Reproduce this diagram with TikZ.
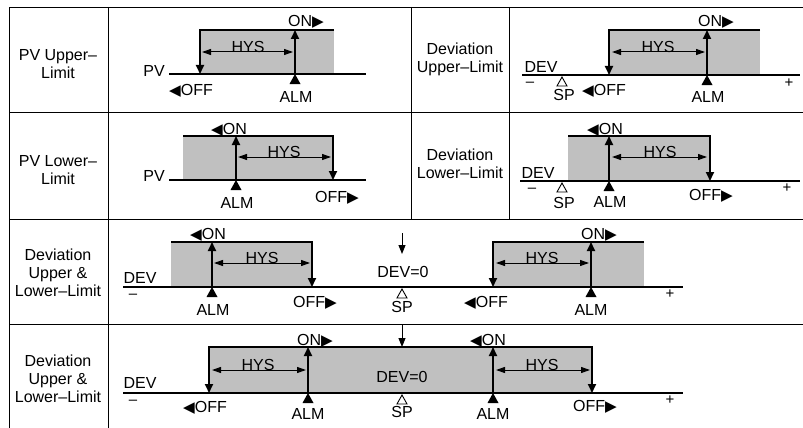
\documentclass[tikz,border=0pt]{standalone}
\usepackage{fontspec}
\setmainfont{Liberation Sans}
\newfontfamily\symfnt[Scale=0.95]{DejaVu Sans}
\usepackage{tikz}
\usetikzlibrary{arrows.meta, calc}
\definecolor{bandgray}{RGB}{192, 192, 192}

\begin{document}
\begin{tikzpicture}[x=1pt, y=-1pt,
    lbl/.style={inner sep=0pt, font=\fontsize{16}{18}\selectfont, text height=11.5pt, text depth=0pt},
    cell/.style={inner sep=0pt, font=\fontsize{16}{18}\selectfont, align=center},
    sgn/.style={inner sep=0pt, font=\fontsize{15}{15}\selectfont, text height=7pt, text depth=0pt},
    axis/.style={line width=2pt},
    swarrow/.style={line width=1.8pt, -{Triangle[length=9pt, width=8pt]}},
    hysarrow/.style={line width=1pt, {Triangle[length=9pt, width=6pt]}-{Triangle[length=9pt, width=6pt]}},
    zeroarrow/.style={line width=1pt, -{Triangle[length=9pt, width=7pt]}},
    grid/.style={line width=0.9pt},
    band/.style={fill=bandgray}]

    \useasboundingbox (0,0) rectangle (803,428);

    % Table
    \draw[grid] (9,428) -- (9,7) -- (803,7);
    \draw[grid] (9,112) -- (803,112);
    \draw[grid] (9,219) -- (803,219);
    \draw[grid] (9,324) -- (803,324);
    \draw[grid] (108,7) -- (108,428);
    \draw[grid] (411,7) -- (411,219);
    \draw[grid] (509,7) -- (509,219);

    % Row labels
    \node[cell] (lab1) at (58,64) {PV Upper–\\Limit};
    \node[cell] (lab2) at (460,59) {Deviation\\Upper–Limit};
    \node[cell] (lab3) at (58,170) {PV Lower–\\Limit};
    \node[cell] (lab4) at (460,164) {Deviation\\Lower–Limit};
    \node[cell] (lab5) at (58,273) {Deviation\\Upper \&\\Lower–Limit};
    \node[cell] (lab6) at (58,379) {Deviation\\Upper \&\\Lower–Limit};

    % PV upper-limit
    \fill[band] (200,30) rectangle (334,74);
    \draw[axis] (169,74) -- (366,74);
    \draw[swarrow] (334,30) -- (200,30) -- (200,74);
    \draw[swarrow] (295,74) -- (295,30);
    \draw[hysarrow] (202,52) -- (293,52);
    \node[lbl] (hys1) at (248,47) {HYS};
    \node[lbl] (on1) at (306,21) {ON{\symfnt ▶}};
    \node[lbl, anchor=east] (pv1) at (165,71) {PV};
    \node[lbl] (off1) at (191,90) {{\symfnt ◀}OFF};
    \node[lbl] (alm1) at (296,97) {ALM};

    % Deviation upper-limit
    \fill[band] (609,30) rectangle (760,75);
    \draw[axis] (522,75) -- (800,75);
    \draw[swarrow] (760,30) -- (609,30) -- (609,75);
    \draw[swarrow] (707,75) -- (707,30);
    \draw[hysarrow] (612,52) -- (705,52);
    \node[lbl] (hys2) at (658,47) {HYS};
    \node[lbl] (on2) at (716,21) {ON{\symfnt ▶}};
    \node[lbl] (dev2) at (541,67) {DEV};
    \node[sgn] (minus2) at (530,83) {–};
    \node[sgn] (plus2) at (789,84) {+};
    \node[lbl] (sp2) at (564,95) {SP};
    \node[lbl] (off2) at (604,90) {{\symfnt ◀}OFF};
    \node[lbl] (alm2) at (708,97) {ALM};

    % PV lower-limit
    \fill[band] (183,136) rectangle (333,180);
    \draw[axis] (169,180) -- (366,180);
    \draw[swarrow] (183,136) -- (333,136) -- (333,180);
    \draw[swarrow] (236,180) -- (236,136);
    \draw[hysarrow] (238,157) -- (331,157);
    \node[lbl] (hys3) at (284,152) {HYS};
    \node[lbl] (on3) at (229,129) {{\symfnt ◀}ON};
    \node[lbl, anchor=east] (pv3) at (165,176) {PV};
    \node[lbl] (alm3) at (237,203) {ALM};
    \node[lbl] (off3) at (337,197) {OFF{\symfnt ▶}};

    % Deviation lower-limit
    \fill[band] (568,136) rectangle (710,181);
    \draw[axis] (520,181) -- (800,181);
    \draw[swarrow] (568,136) -- (710,136) -- (710,181);
    \draw[swarrow] (609,181) -- (609,136);
    \draw[hysarrow] (612,157) -- (707,157);
    \node[lbl] (hys4) at (660,152) {HYS};
    \node[lbl] (on4) at (605,129) {{\symfnt ◀}ON};
    \node[lbl] (dev4) at (538,173) {DEV};
    \node[sgn] (minus4) at (532,189) {–};
    \node[sgn] (plus4) at (787,189) {+};
    \node[lbl] (sp4) at (564,203) {SP};
    \node[lbl] (alm4) at (610,202) {ALM};
    \node[lbl] (off4) at (711,195) {OFF{\symfnt ▶}};

    % Deviation upper & lower-limit (outside band)
    \fill[band] (171,242) rectangle (312,287);
    \fill[band] (493,242) rectangle (644,287);
    \draw[axis] (123,287) -- (683,287);
    \draw[swarrow] (171,242) -- (312,242) -- (312,287);
    \draw[swarrow] (644,242) -- (493,242) -- (493,287);
    \draw[swarrow] (212,287) -- (212,242);
    \draw[swarrow] (591,287) -- (591,242);
    \draw[hysarrow] (214,263) -- (310,263);
    \draw[hysarrow] (496,263) -- (589,263);
    \node[lbl] (hys5a) at (262,258) {HYS};
    \node[lbl] (hys5b) at (542,258) {HYS};
    \node[lbl] (on5a) at (208,234) {{\symfnt ◀}ON};
    \node[lbl] (on5b) at (599,234) {ON{\symfnt ▶}};
    \node[lbl] (dev5) at (140,278) {DEV};
    \node[sgn] (minus5) at (133,295) {–};
    \node[sgn] (plus5) at (670,295) {+};
    \node[lbl] (zero5) at (403,272) {DEV=0};
    \coordinate (top5) at (402,233);
    \coordinate (tip5) at (402,254);
    \draw[zeroarrow] (top5) -- (tip5);
    \node[lbl] (sp5) at (402,307) {SP};
    \node[lbl] (off5a) at (315,302) {OFF{\symfnt ▶}};
    \node[lbl] (off5b) at (486,302) {{\symfnt ◀}OFF};
    \node[lbl] (alm5a) at (213,310) {ALM};
    \node[lbl] (alm5b) at (591,310) {ALM};

    % Deviation upper & lower-limit (inside band)
    \fill[band] (209,347) rectangle (592,393);
    \draw[axis] (123,393) -- (683,393);
    \draw[swarrow] (400,347) -- (209,347) -- (209,393);
    \draw[swarrow] (400,347) -- (592,347) -- (592,393);
    \draw[swarrow] (308,393) -- (308,347);
    \draw[swarrow] (493,393) -- (493,347);
    \draw[hysarrow] (212,370) -- (306,370);
    \draw[hysarrow] (496,370) -- (590,370);
    \node[lbl] (hys6a) at (258,365) {HYS};
    \node[lbl] (hys6b) at (542,365) {HYS};
    \node[lbl] (on6a) at (315,340) {ON{\symfnt ▶}};
    \node[lbl] (on6b) at (488,340) {{\symfnt ◀}ON};
    \node[lbl] (dev6) at (140,383) {DEV};
    \node[sgn] (minus6) at (133,401) {–};
    \node[sgn] (plus6) at (670,401) {+};
    \node[lbl] (zero6) at (402,377) {DEV=0};
    \coordinate (top6) at (402,325);
    \coordinate (tip6) at (402,347);
    \draw[zeroarrow] (top6) -- (tip6);
    \node[lbl] (sp6) at (402,412) {SP};
    \node[lbl] (off6a) at (205,407) {{\symfnt ◀}OFF};
    \node[lbl] (off6b) at (595,406) {OFF{\symfnt ▶}};
    \node[lbl] (alm6a) at (308,414) {ALM};
    \node[lbl] (alm6b) at (493,414) {ALM};

    % Alarm and set-point marks under the axis
    \foreach \x/\y in {295/74, 707/75, 236/180, 609/181, 212/287, 591/287, 308/393, 493/393}
        \fill (\x,\y) -- ++(-5.5,10) -- ++(11,0) -- cycle;
    \foreach \x/\y in {562/75, 562/181, 402/287, 402/393}
        \draw[line width=0.9pt, fill=white] (\x,\y+2) -- ++(-5,9) -- ++(10,0) -- cycle;
\end{tikzpicture}
\end{document}
